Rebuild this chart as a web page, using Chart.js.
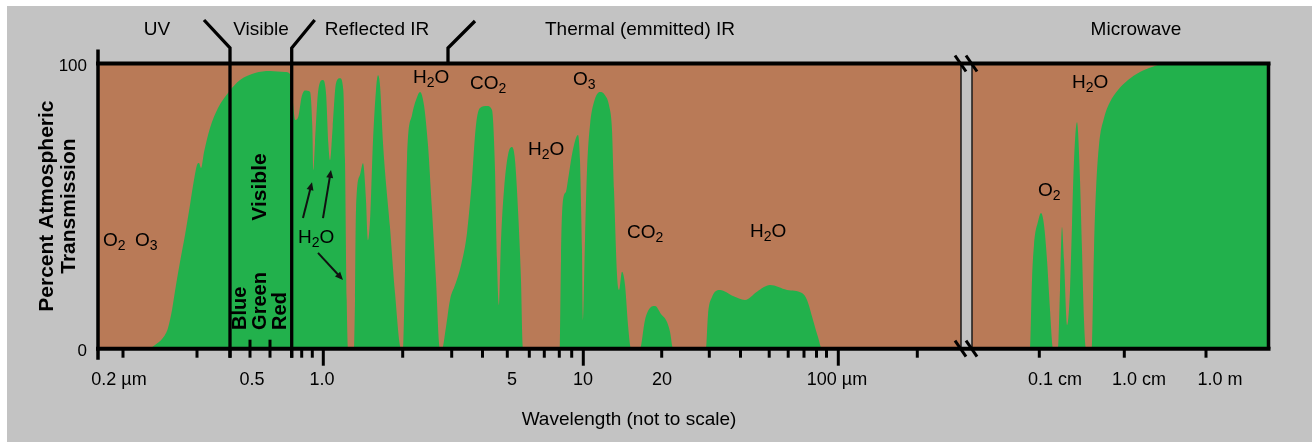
<!DOCTYPE html>
<html>
<head>
<meta charset="utf-8">
<title>Atmospheric transmission</title>
<script src="https://cdn.jsdelivr.net/npm/chart.js@4.4.1/dist/chart.umd.min.js"></script>
<style>
  html, body { margin: 0; padding: 0; background: #ffffff; }
  #wrap { width: 1312px; height: 442px; }
</style>
</head>
<body>
<div id="wrap"><canvas id="chart" width="1312" height="442"></canvas></div>
<script>
// x = position along the wavelength axis (not to scale), 0 at the left axis
// y = percent atmospheric transmission
var curvePos = [
  0, 50, 57, 65, 70, 74, 78, 82, 87, 92, 96, 99, 101, 103, 106, 112, 120, 130, 142, 157, 172, 187, 192,
  197.3, 200.3, 203.7, 207, 212, 214.3, 215.3, 217, 220.3, 224.7, 228, 230.3, 232, 234.7, 238, 242, 245.3, 247, 248.7, 250,
  256, 257, 258, 262, 265, 268, 270, 272, 275, 278, 280, 282, 285, 292, 297, 303,
  305, 307, 309, 314, 319, 322, 326, 330, 334, 338, 342,
  344, 348, 352, 357, 363, 369, 374, 378, 382, 389, 394, 397, 399, 401, 403, 406, 410, 414, 417, 420, 423, 425,
  462, 463, 465, 468, 470, 473, 476, 480, 482, 484, 485, 487, 489, 492, 496, 502, 507, 511, 514, 516, 519, 521, 524, 527, 530, 533,
  542, 547, 552, 557, 563, 569, 572, 575,
  608, 610, 614, 622, 635, 647, 659, 672, 689, 704, 709, 715, 720, 724,
  874, 932, 934, 936, 940, 943, 946, 949, 952, 955,
  960, 962, 964, 966, 969, 972, 974, 976, 979, 982, 984, 986, 988,
  994, 996, 998, 1001, 1006, 1012, 1020, 1030, 1042, 1054, 1064, 1072, 1171
];
var curveTrans = [
  0, 0, 1.3, 3.8, 7.3, 13.6, 22.3, 30.4, 39.9, 50.4, 59.2, 64.4, 65.1, 63.4, 68.9, 77.4, 84.4, 89.7, 94.2, 96.7, 97.4, 97, 96.3,
  80.2, 81.3, 88.4, 90.5, 90.1, 77.8, 62.7, 72.1, 90.7, 94.2, 89.7, 72.1, 66.1, 77.8, 93.1, 94.8, 90.7, 66.1, 17.1, 0,
  0, 17, 48.6, 61, 65, 52, 38, 45, 73, 90.7, 95.9, 92.4, 72.1, 42.6, 19.5, 0,
  0, 27.6, 66.2, 81.9, 88.2, 90, 85.4, 71.4, 48.6, 24, 0,
  0, 7.6, 17.1, 22.3, 29.3, 40.6, 59.2, 78.4, 84.4, 85.1, 83.7, 62.7, 31, 15.3, 38, 55.7, 67.9, 70.7, 66.1, 48.6, 24, 0,
  0, 31, 52.1, 55, 59.2, 66.1, 71.4, 74.9, 66.1, 34.6, 10.1, 38, 62.7, 78.4, 86.5, 90, 88.9, 85.4, 76.7, 55.7, 25.9, 20.6, 27, 22.3, 8.3, 0,
  0, 10.1, 14.3, 15, 12.2, 9.4, 5.9, 0,
  0, 11.8, 18.1, 20.6, 18.5, 17.1, 20, 22.3, 20.6, 19.5, 17.1, 10.1, 4.1, 0,
  0, 0, 24, 36.4, 44.6, 47.6, 43.4, 31.1, 13.6, 0,
  0, 20.6, 42.7, 31.2, 8.3, 20.6, 43.5, 66.1, 79.4, 59.2, 34.7, 10.1, 0,
  0, 34.6, 55.7, 71.4, 80.9, 86.5, 90.7, 94.2, 97, 98.8, 99.8, 100, 100
];

var yTicks = [0, 100];
var tickPos = [25, 99, 132, 152, 172, 193.7, 203.7, 214.3, 225.3, 304.7, 353.7, 384.5, 409.3, 431.3, 446.3,
  461.3, 473.7, 485.3, 563.7, 611.3, 642.5, 671.2, 690.2, 706, 718.5, 728.5, 740.3, 819.3, 941.3, 1026.3, 1108];
var longTicks = [225.3, 485.3, 740.3];
var crossTicks = [152, 172];
var tickLabelPos = [21, 154, 224, 414, 485, 564, 739, 957, 1041, 1122];
var tickLabels = ['0.2 \u00b5m', '0.5', '1.0', '5', '10', '20', '100 \u00b5m', '0.1 cm', '1.0 cm', '1.0 m'];

var gapStart = 863;
var gapEnd = 874;

var regionNames = ['UV', 'Visible', 'Reflected IR', 'Thermal (emmitted) IR', 'Microwave'];
var regionNamePos = [59, 163, 279, 542, 1038];
var dividerPos = [132, 193.7];
var dividerSlant = [-26, 23];
var thermalDividerPos = 350;

var gasLabels = ['O_2', 'O_3', 'H_2O', 'H_2O', 'CO_2', 'O_3', 'H_2O', 'CO_2', 'H_2O', 'O_2', 'H_2O'];
var gasPos = [5, 37, 200, 315, 372, 475, 430, 529, 652, 940, 974];
var gasTrans = [36, 36, 37, 93.2, 91, 92.3, 67.9, 38.8, 39.3, 53.4, 91.3];

var bandNames = ['Blue', 'Green', 'Red'];
var bandPos = [142, 162, 182.5];

var arrowFromPos = [205, 225, 220];
var arrowFromTrans = [45.8, 45.8, 33.6];
var arrowToPos = [214, 233, 245];
var arrowToTrans = [58.4, 62.7, 24.1];

var FONT = '"Liberation Sans", Arial, sans-serif';
var GRAY = '#c3c3c3';
var BROWN = '#b97a57';
var GREEN = '#22b14c';

function line(ctx, x1, y1, x2, y2) {
  ctx.beginPath();
  ctx.moveTo(x1, y1);
  ctx.lineTo(x2, y2);
  ctx.stroke();
}

// 'H_2O' -> H, subscript 2, O
function drawFormula(ctx, text, x, y) {
  var sub = false;
  ctx.textAlign = 'left';
  ctx.textBaseline = 'alphabetic';
  for (var i = 0; i < text.length; i++) {
    var c = text[i];
    if (c === '_') { sub = true; continue; }
    ctx.font = (sub ? '14px ' : '19px ') + FONT;
    ctx.fillText(c, x, y + (sub ? 4 : 0));
    x += ctx.measureText(c).width;
    sub = false;
  }
}

function drawArrow(ctx, x1, y1, x2, y2) {
  var ang = Math.atan2(y2 - y1, x2 - x1);
  ctx.lineWidth = 2;
  line(ctx, x1, y1, x2 - 5 * Math.cos(ang), y2 - 5 * Math.sin(ang));
  ctx.beginPath();
  ctx.moveTo(x2, y2);
  ctx.lineTo(x2 - 8 * Math.cos(ang) + 3.5 * Math.sin(ang), y2 - 8 * Math.sin(ang) - 3.5 * Math.cos(ang));
  ctx.lineTo(x2 - 8 * Math.cos(ang) - 3.5 * Math.sin(ang), y2 - 8 * Math.sin(ang) + 3.5 * Math.cos(ang));
  ctx.closePath();
  ctx.fill();
}

var overlay = {
  id: 'overlay',
  beforeDraw: function (chart) {
    var ctx = chart.ctx, a = chart.chartArea;
    ctx.save();
    ctx.fillStyle = GRAY;
    ctx.fillRect(7, 6, chart.width - 7, chart.height - 6);
    ctx.fillStyle = BROWN;
    ctx.fillRect(a.left, a.top, a.right - a.left, a.bottom - a.top);
    ctx.restore();
  },
  afterDatasetsDraw: function (chart) {
    var ctx = chart.ctx, a = chart.chartArea;
    var xs = chart.scales.x, ys = chart.scales.y;
    function X(v) { return xs.getPixelForValue(v); }
    function Y(v) { return ys.getPixelForValue(v); }

    ctx.save();
    ctx.lineCap = 'butt';

    // gap between the two panels
    var gl = X(gapStart), gr = X(gapEnd);
    ctx.fillStyle = GRAY;
    ctx.fillRect(gl, a.top, gr - gl, a.bottom - a.top);
    ctx.strokeStyle = '#1a1a1a';
    ctx.lineWidth = 1.5;
    line(ctx, gl, a.top, gl, a.bottom);
    line(ctx, gr, a.top, gr, a.bottom);

    // frame
    ctx.strokeStyle = '#000';
    ctx.lineWidth = 4;
    line(ctx, a.left - 2, a.top, a.right + 2, a.top);
    line(ctx, a.left - 2, a.bottom, a.right + 2, a.bottom);
    ctx.lineWidth = 3.5;
    line(ctx, a.left, a.top - 14, a.left, a.bottom + 11);
    line(ctx, a.right, a.top, a.right, a.bottom);

    // tick marks
    ctx.lineWidth = 3;
    tickPos.forEach(function (v) {
      var x = X(v);
      var up = crossTicks.indexOf(v) >= 0 ? 9 : 0;
      var down = longTicks.indexOf(v) >= 0 ? 17 : 9;
      line(ctx, x, a.bottom - up, x, a.bottom + down);
    });

    // axis break marks
    [gl, gr].forEach(function (x) {
      [a.top, a.bottom].forEach(function (y) {
        line(ctx, x - 6, y - 8, x + 5, y + 8);
      });
    });

    // region dividers
    ctx.lineWidth = 3.3;
    dividerPos.forEach(function (v, i) {
      var x = X(v);
      ctx.beginPath();
      ctx.moveTo(x + dividerSlant[i], 20);
      ctx.lineTo(x, 48);
      ctx.lineTo(x, a.bottom + 9);
      ctx.stroke();
    });
    var tx = X(thermalDividerPos);
    ctx.beginPath();
    ctx.moveTo(tx, a.top);
    ctx.lineTo(tx, 48);
    ctx.lineTo(tx + 27, 21);
    ctx.stroke();

    // region names and x title
    ctx.fillStyle = '#000';
    ctx.font = '19px ' + FONT;
    ctx.textAlign = 'center';
    ctx.textBaseline = 'middle';
    regionNames.forEach(function (t, i) {
      ctx.fillText(t, X(regionNamePos[i]), 30);
    });
    ctx.fillText('Wavelength (not to scale)', X(531), 420);

    // gases
    gasLabels.forEach(function (t, i) {
      drawFormula(ctx, t, X(gasPos[i]), Y(gasTrans[i]));
    });

    // rotated labels in the visible band
    ctx.save();
    ctx.translate(X(162), Y(56.7));
    ctx.rotate(-Math.PI / 2);
    ctx.font = 'bold 21px ' + FONT;
    ctx.textAlign = 'center';
    ctx.textBaseline = 'middle';
    ctx.fillText('Visible', 0, 0);
    ctx.restore();
    bandNames.forEach(function (t, i) {
      ctx.save();
      ctx.translate(X(bandPos[i]), Y(6.6));
      ctx.rotate(-Math.PI / 2);
      ctx.font = 'bold 20px ' + FONT;
      ctx.textAlign = 'left';
      ctx.textBaseline = 'middle';
      ctx.fillText(t, 0, 0);
      ctx.restore();
    });

    // arrows to the H2O bands
    ctx.fillStyle = '#111';
    ctx.strokeStyle = '#111';
    arrowFromPos.forEach(function (v, i) {
      drawArrow(ctx, X(v), Y(arrowFromTrans[i]), X(arrowToPos[i]), Y(arrowToTrans[i]));
    });

    ctx.restore();
  }
};

Chart.defaults.font.family = FONT;
Chart.defaults.color = '#000';

var points = curvePos.map(function (x, i) { return { x: x, y: curveTrans[i] }; });

new Chart(document.getElementById('chart'), {
  type: 'line',
  data: {
    datasets: [{
      label: 'Transmission',
      data: points,
      fill: 'origin',
      backgroundColor: GREEN,
      borderWidth: 0,
      pointRadius: 0,
      cubicInterpolationMode: 'monotone'
    }]
  },
  options: {
    responsive: false,
    animation: false,
    events: [],
    layout: { padding: { left: 0, right: 43.5, top: 63.5, bottom: 0 } },
    plugins: { legend: { display: false }, tooltip: { enabled: false } },
    scales: {
      x: {
        type: 'linear',
        min: 0,
        max: 1170.5,
        afterBuildTicks: function (s) {
          s.ticks = tickLabelPos.map(function (v) { return { value: v }; });
        },
        afterFit: function (s) { s.height = 93.3; },
        grid: { display: false, drawTicks: false },
        border: { display: false },
        ticks: {
          autoSkip: false,
          maxRotation: 0,
          color: '#000',
          font: { size: 18 },
          padding: 20.5,
          callback: function (v, i) { return tickLabels[i]; }
        }
      },
      y: {
        min: 0,
        max: 100,
        afterBuildTicks: function (s) {
          s.ticks = yTicks.map(function (v) { return { value: v }; });
        },
        afterFit: function (s) { s.width = 98; },
        grid: { display: false, drawTicks: false },
        border: { display: false },
        ticks: { color: '#000', font: { size: 17 }, padding: 11, labelOffset: 3 },
        title: {
          display: true,
          text: ['Percent Atmospheric', 'Transmission'],
          color: '#000',
          font: { size: 21, weight: 'bold', lineHeight: 1.05 },
          padding: { top: 36, bottom: 0 }
        }
      }
    }
  },
  plugins: [overlay]
});
</script>
</body>
</html>
